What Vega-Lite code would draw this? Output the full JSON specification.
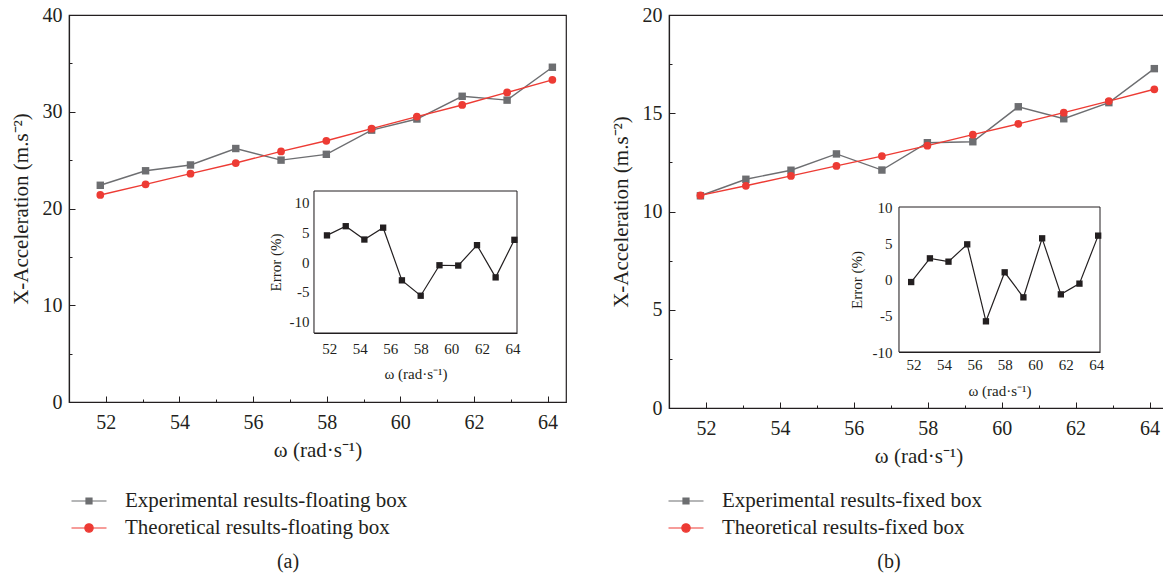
{
  "$schema": "https://vega.github.io/schema/vega-lite/v6.json",
  "padding": {"left": 9, "top": 4, "right": 0, "bottom": 0},
  "background": "white",
  "datasets": {
    "floating": [
      {"omega": 51.85, "series": "Experimental results-floating box", "accel": 22.4},
      {"omega": 53.08, "series": "Experimental results-floating box", "accel": 23.9},
      {"omega": 54.3, "series": "Experimental results-floating box", "accel": 24.5},
      {"omega": 55.53, "series": "Experimental results-floating box", "accel": 26.2},
      {"omega": 56.76, "series": "Experimental results-floating box", "accel": 25.0},
      {"omega": 57.99, "series": "Experimental results-floating box", "accel": 25.6},
      {"omega": 59.22, "series": "Experimental results-floating box", "accel": 28.1},
      {"omega": 60.45, "series": "Experimental results-floating box", "accel": 29.25},
      {"omega": 61.68, "series": "Experimental results-floating box", "accel": 31.6},
      {"omega": 62.9, "series": "Experimental results-floating box", "accel": 31.2},
      {"omega": 64.13, "series": "Experimental results-floating box", "accel": 34.6},
      {"omega": 51.85, "series": "Theoretical results-floating box", "accel": 21.4},
      {"omega": 53.08, "series": "Theoretical results-floating box", "accel": 22.5},
      {"omega": 54.3, "series": "Theoretical results-floating box", "accel": 23.6},
      {"omega": 55.53, "series": "Theoretical results-floating box", "accel": 24.7},
      {"omega": 56.76, "series": "Theoretical results-floating box", "accel": 25.9},
      {"omega": 57.99, "series": "Theoretical results-floating box", "accel": 27.0},
      {"omega": 59.22, "series": "Theoretical results-floating box", "accel": 28.25},
      {"omega": 60.45, "series": "Theoretical results-floating box", "accel": 29.5},
      {"omega": 61.68, "series": "Theoretical results-floating box", "accel": 30.7},
      {"omega": 62.9, "series": "Theoretical results-floating box", "accel": 32.0},
      {"omega": 64.13, "series": "Theoretical results-floating box", "accel": 33.3}
    ],
    "floatingError": [
      {"omega": 51.85, "error": 4.5},
      {"omega": 53.08, "error": 6.05},
      {"omega": 54.3, "error": 3.8},
      {"omega": 55.53, "error": 5.8},
      {"omega": 56.76, "error": -3.1},
      {"omega": 57.99, "error": -5.7},
      {"omega": 59.22, "error": -0.55},
      {"omega": 60.45, "error": -0.6},
      {"omega": 61.68, "error": 2.85},
      {"omega": 62.9, "error": -2.6},
      {"omega": 64.13, "error": 3.75}
    ],
    "fixed": [
      {"omega": 51.85, "series": "Experimental results-fixed box", "accel": 10.8},
      {"omega": 53.08, "series": "Experimental results-fixed box", "accel": 11.64},
      {"omega": 54.3, "series": "Experimental results-fixed box", "accel": 12.1},
      {"omega": 55.53, "series": "Experimental results-fixed box", "accel": 12.93},
      {"omega": 56.76, "series": "Experimental results-fixed box", "accel": 12.11},
      {"omega": 57.99, "series": "Experimental results-fixed box", "accel": 13.5},
      {"omega": 59.22, "series": "Experimental results-fixed box", "accel": 13.55},
      {"omega": 60.45, "series": "Experimental results-fixed box", "accel": 15.33},
      {"omega": 61.68, "series": "Experimental results-fixed box", "accel": 14.72},
      {"omega": 62.9, "series": "Experimental results-fixed box", "accel": 15.54},
      {"omega": 64.13, "series": "Experimental results-fixed box", "accel": 17.27},
      {"omega": 51.85, "series": "Theoretical results-fixed box", "accel": 10.82},
      {"omega": 53.08, "series": "Theoretical results-fixed box", "accel": 11.31},
      {"omega": 54.3, "series": "Theoretical results-fixed box", "accel": 11.81},
      {"omega": 55.53, "series": "Theoretical results-fixed box", "accel": 12.32},
      {"omega": 56.76, "series": "Theoretical results-fixed box", "accel": 12.82},
      {"omega": 57.99, "series": "Theoretical results-fixed box", "accel": 13.35},
      {"omega": 59.22, "series": "Theoretical results-fixed box", "accel": 13.91},
      {"omega": 60.45, "series": "Theoretical results-fixed box", "accel": 14.46},
      {"omega": 61.68, "series": "Theoretical results-fixed box", "accel": 15.03},
      {"omega": 62.9, "series": "Theoretical results-fixed box", "accel": 15.62},
      {"omega": 64.13, "series": "Theoretical results-fixed box", "accel": 16.22}
    ],
    "fixedError": [
      {"omega": 51.85, "error": -0.35},
      {"omega": 53.08, "error": 2.92},
      {"omega": 54.3, "error": 2.46},
      {"omega": 55.53, "error": 4.85},
      {"omega": 56.76, "error": -5.77},
      {"omega": 57.99, "error": 0.99},
      {"omega": 59.22, "error": -2.46},
      {"omega": 60.45, "error": 5.68},
      {"omega": 61.68, "error": -2.05},
      {"omega": 62.9, "error": -0.57},
      {"omega": 64.13, "error": 6.05}
    ],
    "frame": [{}]
  },
  "hconcat": [
    {
      "width": 497,
      "height": 387,
      "title": {"text": "(a)", "orient": "bottom", "anchor": "middle", "frame": "bounds", "offset": 14},
      "layer": [
        {
          "data": {"name": "floating"},
          "encoding": {
            "x": {"field": "omega", "type": "quantitative",
              "scale": {"domain": [51, 64.5], "nice": false, "zero": false},
              "axis": {"title": "ω (rad·s⁻¹)", "values": [52, 53, 54, 55, 56, 57, 58, 59, 60, 61, 62, 63, 64],
                "labelExpr": "datum.value % 2 === 0 ? datum.label : ''",
                "tickSize": {"condition": {"test": "datum.value % 2 === 0", "value": -6}, "value": -3},
                "labelPadding": 16, "titlePadding": 4}},
            "y": {"field": "accel", "type": "quantitative",
              "scale": {"domain": [0, 40], "nice": false},
              "axis": {"title": "X-Acceleration (m.s⁻²)", "values": [0, 5, 10, 15, 20, 25, 30, 35, 40],
                "labelExpr": "datum.value % 10 === 0 ? datum.label : ''",
                "tickSize": {"condition": {"test": "datum.value % 10 === 0", "value": -6}, "value": -3},
                "labelPadding": 13, "titlePadding": 11}}
          },
          "layer": [
            {"mark": {"type": "line", "strokeWidth": 1.4},
              "encoding": {"color": {"field": "series", "type": "nominal",
                "scale": {"domain": ["Experimental results-floating box", "Theoretical results-floating box"], "range": ["#6d6e71", "#ed3b34"]},
                "legend": {"orient": "none", "legendX": 9, "legendY": 475, "title": null}}}},
            {"transform": [{"filter": "indexof(datum.series, 'Experimental') === 0"}],
              "mark": {"type": "point", "shape": "square", "filled": true, "size": 55, "opacity": 1, "color": "#6d6e71"}},
            {"transform": [{"filter": "indexof(datum.series, 'Theoretical') === 0"}],
              "mark": {"type": "point", "shape": "circle", "filled": true, "size": 60, "opacity": 1, "color": "#ed3b34"}},
            {"mark": {"type": "point", "filled": true, "opacity": 0},
              "encoding": {
                "color": {"field": "series", "type": "nominal",
                  "scale": {"domain": ["Experimental results-floating box", "Theoretical results-floating box"], "range": ["#6d6e71", "#ed3b34"]},
                  "legend": {"orient": "none", "legendX": 9, "legendY": 475, "title": null}},
                "stroke": {"field": "series", "type": "nominal",
                  "scale": {"domain": ["Experimental results-floating box", "Theoretical results-floating box"], "range": ["#6d6e71", "#ed3b34"]},
                  "legend": {"orient": "none", "legendX": 9, "legendY": 475, "title": null}},
                "shape": {"field": "series", "type": "nominal",
                  "scale": {"domain": ["Experimental results-floating box", "Theoretical results-floating box"],
                    "range": ["M-1.75,0H1.75M-0.3,-0.3H0.3V0.3H-0.3Z", "M-1.75,0H1.75M0.42,0A0.42,0.42,0,1,1,-0.42,0A0.42,0.42,0,1,1,0.42,0Z"]},
                  "legend": {"orient": "none", "legendX": 9, "legendY": 475, "title": null}}
              }}
          ]
        },
        {
          "layer": [
            {
              "data": {"name": "frame"},
              "mark": {"type": "rect", "fill": "white", "stroke": "#231f20", "strokeWidth": 1},
              "encoding": {
                "x": {"datum": 51, "type": "quantitative"},
                "x2": {"datum": 64.3},
                "y": {"datum": -12, "type": "quantitative"},
                "y2": {"datum": 12}
              }
            },
            {
              "data": {"name": "floatingError"},
              "encoding": {
                "x": {"field": "omega", "type": "quantitative",
                  "scale": {"domain": [51, 64.3], "range": [245, 448], "nice": false, "zero": false},
                  "axis": {"orient": "bottom", "offset": -69, "title": "ω (rad·s⁻¹)", "values": [52, 53, 54, 55, 56, 57, 58, 59, 60, 61, 62, 63, 64],
                    "labelExpr": "datum.value % 2 === 0 ? datum.label : ''",
                    "tickSize": {"condition": {"test": "datum.value % 2 === 0", "value": -4}, "value": -2},
                    "labelFontSize": 15, "titleFontSize": 15, "labelPadding": 12, "titlePadding": 8}},
                "y": {"field": "error", "type": "quantitative",
                  "scale": {"domain": [-12, 12], "range": [318, 176], "nice": false, "zero": false},
                  "axis": {"orient": "left", "offset": -245, "title": "Error (%)", "values": [-10, -7.5, -5, -2.5, 0, 2.5, 5, 7.5, 10],
                    "labelExpr": "datum.value % 5 === 0 ? '' + datum.value : ''",
                    "tickSize": {"condition": {"test": "datum.value % 5 === 0", "value": -4}, "value": -2},
                    "labelFontSize": 15, "titleFontSize": 15, "labelPadding": 9, "titlePadding": 6}}
              },
              "layer": [
                {"mark": {"type": "line", "color": "#231f20", "strokeWidth": 1.2}},
                {"mark": {"type": "point", "shape": "square", "filled": true, "size": 40, "color": "#231f20", "opacity": 1}}
              ]
            }
          ]
        }
      ],
      "resolve": {"scale": {"x": "independent", "y": "independent"}, "axis": {"x": "independent", "y": "independent"}}
    },
    {
      "width": 499,
      "height": 393,
      "title": {"text": "(b)", "orient": "bottom", "anchor": "middle", "frame": "bounds", "offset": 14},
      "layer": [
        {
          "data": {"name": "fixed"},
          "encoding": {
            "x": {"field": "omega", "type": "quantitative",
              "scale": {"domain": [51, 64.5], "nice": false, "zero": false},
              "axis": {"title": "ω (rad·s⁻¹)", "values": [52, 53, 54, 55, 56, 57, 58, 59, 60, 61, 62, 63, 64],
                "labelExpr": "datum.value % 2 === 0 ? datum.label : ''",
                "tickSize": {"condition": {"test": "datum.value % 2 === 0", "value": -6}, "value": -3},
                "labelPadding": 16, "titlePadding": 4}},
            "y": {"field": "accel", "type": "quantitative",
              "scale": {"domain": [0, 20], "nice": false},
              "axis": {"title": "X-Acceleration (m.s⁻²)", "values": [0, 2.5, 5, 7.5, 10, 12.5, 15, 17.5, 20],
                "labelExpr": "datum.value % 5 === 0 ? datum.label : ''",
                "tickSize": {"condition": {"test": "datum.value % 5 === 0", "value": -6}, "value": -3},
                "labelPadding": 13, "titlePadding": 11}}
          },
          "layer": [
            {"mark": {"type": "line", "strokeWidth": 1.4},
              "encoding": {"color": {"field": "series", "type": "nominal",
                "scale": {"domain": ["Experimental results-fixed box", "Theoretical results-fixed box"], "range": ["#6d6e71", "#ed3b34"]},
                "legend": {"orient": "none", "legendX": 6, "legendY": 475, "title": null}}}},
            {"transform": [{"filter": "indexof(datum.series, 'Experimental') === 0"}],
              "mark": {"type": "point", "shape": "square", "filled": true, "size": 55, "opacity": 1, "color": "#6d6e71"}},
            {"transform": [{"filter": "indexof(datum.series, 'Theoretical') === 0"}],
              "mark": {"type": "point", "shape": "circle", "filled": true, "size": 60, "opacity": 1, "color": "#ed3b34"}},
            {"mark": {"type": "point", "filled": true, "opacity": 0},
              "encoding": {
                "color": {"field": "series", "type": "nominal",
                  "scale": {"domain": ["Experimental results-fixed box", "Theoretical results-fixed box"], "range": ["#6d6e71", "#ed3b34"]},
                  "legend": {"orient": "none", "legendX": 6, "legendY": 475, "title": null}},
                "stroke": {"field": "series", "type": "nominal",
                  "scale": {"domain": ["Experimental results-fixed box", "Theoretical results-fixed box"], "range": ["#6d6e71", "#ed3b34"]},
                  "legend": {"orient": "none", "legendX": 6, "legendY": 475, "title": null}},
                "shape": {"field": "series", "type": "nominal",
                  "scale": {"domain": ["Experimental results-fixed box", "Theoretical results-fixed box"],
                    "range": ["M-1.75,0H1.75M-0.3,-0.3H0.3V0.3H-0.3Z", "M-1.75,0H1.75M0.42,0A0.42,0.42,0,1,1,-0.42,0A0.42,0.42,0,1,1,0.42,0Z"]},
                  "legend": {"orient": "none", "legendX": 6, "legendY": 475, "title": null}}
              }}
          ]
        },
        {
          "layer": [
            {
              "data": {"name": "frame"},
              "mark": {"type": "rect", "fill": "white", "stroke": "#231f20", "strokeWidth": 1},
              "encoding": {
                "x": {"datum": 51.05, "type": "quantitative"},
                "x2": {"datum": 64.25},
                "y": {"datum": -10, "type": "quantitative"},
                "y2": {"datum": 10}
              }
            },
            {
              "data": {"name": "fixedError"},
              "encoding": {
                "x": {"field": "omega", "type": "quantitative",
                  "scale": {"domain": [51.05, 64.25], "range": [230, 431], "nice": false, "zero": false},
                  "axis": {"orient": "bottom", "offset": -56, "title": "ω (rad·s⁻¹)", "values": [52, 53, 54, 55, 56, 57, 58, 59, 60, 61, 62, 63, 64],
                    "labelExpr": "datum.value % 2 === 0 ? datum.label : ''",
                    "tickSize": {"condition": {"test": "datum.value % 2 === 0", "value": -4}, "value": -2},
                    "labelFontSize": 15, "titleFontSize": 15, "labelPadding": 9, "titlePadding": 9}},
                "y": {"field": "error", "type": "quantitative",
                  "scale": {"domain": [-10, 10], "range": [337, 192], "nice": false, "zero": false},
                  "axis": {"orient": "left", "offset": -230, "title": "Error (%)", "values": [-10, -7.5, -5, -2.5, 0, 2.5, 5, 7.5, 10],
                    "labelExpr": "datum.value % 5 === 0 ? '' + datum.value : ''",
                    "tickSize": {"condition": {"test": "datum.value % 5 === 0", "value": -4}, "value": -2},
                    "labelFontSize": 15, "titleFontSize": 15, "labelPadding": 11, "titlePadding": 8}}
              },
              "layer": [
                {"mark": {"type": "line", "color": "#231f20", "strokeWidth": 1.2}},
                {"mark": {"type": "point", "shape": "square", "filled": true, "size": 40, "color": "#231f20", "opacity": 1}}
              ]
            }
          ]
        }
      ],
      "resolve": {"scale": {"x": "independent", "y": "independent"}, "axis": {"x": "independent", "y": "independent"}}
    }
  ],
  "spacing": 42,
  "resolve": {
    "scale": {"color": "independent", "stroke": "independent", "shape": "independent"},
    "legend": {"color": "independent", "stroke": "independent", "shape": "independent"}
  },
  "config": {
    "font": "Liberation Serif",
    "view": {"stroke": "#231f20", "strokeWidth": 1.2},
    "axis": {
      "grid": false,
      "domainColor": "#231f20",
      "domainWidth": 1.2,
      "tickColor": "#231f20",
      "tickWidth": 1,
      "labelFont": "Liberation Serif",
      "labelFontSize": 20,
      "labelColor": "#231f20",
      "labelFlush": false,
      "labelOverlap": false,
      "titleFont": "Liberation Serif",
      "titleFontSize": 21,
      "titleFontWeight": "normal",
      "titleColor": "#231f20"
    },
    "legend": {
      "labelFont": "Liberation Serif",
      "labelFontSize": 21,
      "labelColor": "#231f20",
      "labelLimit": 0,
      "symbolSize": 400,
      "symbolStrokeWidth": 1.2,
      "labelOffset": 25,
      "rowPadding": 6,
      "padding": 0,
      "symbolOpacity": 1
    },
    "title": {
      "font": "Liberation Serif",
      "fontSize": 20,
      "fontWeight": "normal",
      "color": "#231f20"
    }
  }
}
